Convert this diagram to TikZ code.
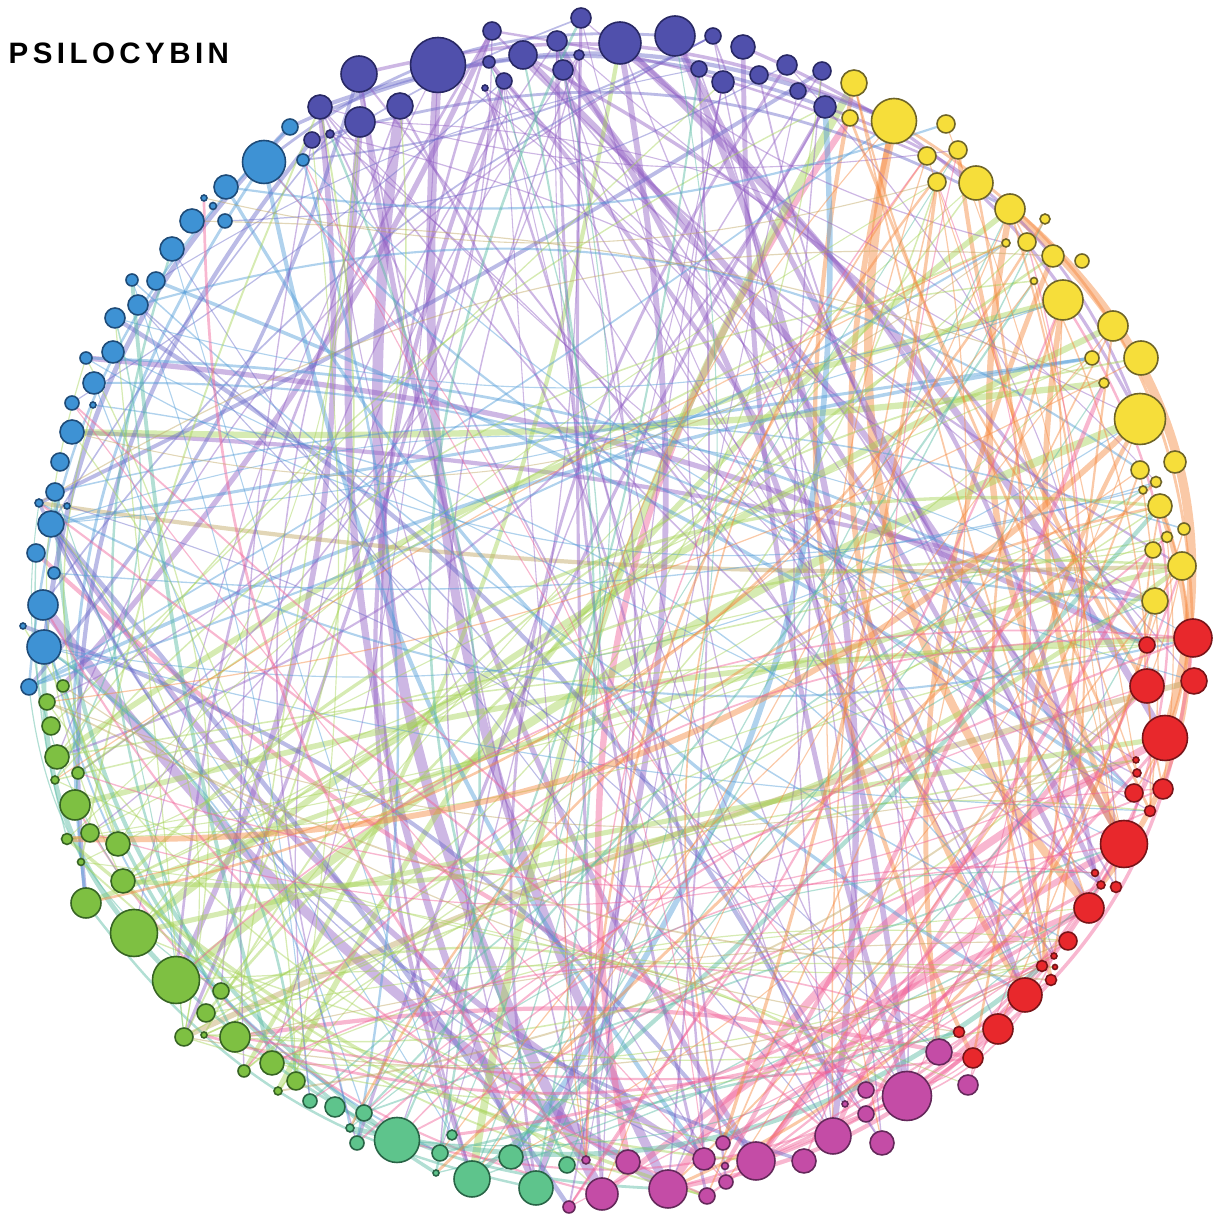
\documentclass[tikz,border=0pt]{standalone}
\usepackage{fontspec}
\newfontfamily\titlefont[LetterSpace=15]{Liberation Sans}
\usepackage{xcolor}
\usepackage{tikz}
\pgfdeclarelayer{background}
\pgfsetlayers{background,main}

\definecolor{indfill}{RGB}{80,80,172}
\definecolor{indline}{RGB}{40,40,100}
\definecolor{yelfill}{RGB}{246,222,58}
\definecolor{yelline}{RGB}{110,100,40}
\definecolor{redfill}{RGB}{232,40,44}
\definecolor{redline}{RGB}{120,20,24}
\definecolor{magfill}{RGB}{196,76,166}
\definecolor{magline}{RGB}{100,40,90}
\definecolor{teafill}{RGB}{94,196,140}
\definecolor{tealine}{RGB}{40,100,70}
\definecolor{grnfill}{RGB}{126,192,66}
\definecolor{grnline}{RGB}{55,100,35}
\definecolor{skyfill}{RGB}{62,146,212}
\definecolor{skyline}{RGB}{30,75,120}
\definecolor{edgpur}{RGB}{145,95,195}
\definecolor{edgind}{RGB}{105,105,200}
\definecolor{edglim}{RGB}{165,210,85}
\definecolor{edgora}{RGB}{245,135,60}
\definecolor{edgpnk}{RGB}{240,95,150}
\definecolor{edgsky}{RGB}{80,155,215}
\definecolor{edgtea}{RGB}{85,185,160}
\definecolor{edgtan}{RGB}{190,165,95}

\tikzset{
  dot/.style={circle, inner sep=0pt, line width=0.45pt},
  indnode/.style={dot, fill=indfill, draw=indline},
  yelnode/.style={dot, fill=yelfill, draw=yelline},
  rednode/.style={dot, fill=redfill, draw=redline},
  magnode/.style={dot, fill=magfill, draw=magline},
  teanode/.style={dot, fill=teafill, draw=tealine},
  grnnode/.style={dot, fill=grnfill, draw=grnline},
  skynode/.style={dot, fill=skyfill, draw=skyline},
  chord/.style={opacity=0.45, line cap=round},
}

\begin{document}
\begin{tikzpicture}[x=0.1mm, y=-0.1mm]
    \useasboundingbox (0,0) rectangle (1222,1218);

    % title
    \node[anchor=base west, font=\titlefont\bfseries\fontsize{8.4}{10}\selectfont, inner sep=0pt] (title) at (8,64) {PSILOCYBIN};

    % modules round the ring
    \foreach \x/\y/\d [count=\k] in {312/140/16, 330/134/8, 320/107/24, 360/122/30, 359/74/36, 400/106/26, 438/65/55, 485/88/6, 489/62/12, 504/81/16, 492/31/18, 523/55/28, 557/41/20, 563/70/20, 579/55/10, 581/18/20, 620/43/42, 675/36/40, 699/69/16, 713/36/16, 723/82/22, 743/47/24, 759/75/18, 787/65/20, 798/91/16, 822/71/18, 825/107/22}
        \node[indnode, minimum size=\d*0.1mm] (ind\k) at (\x,\y) {};
    \foreach \x/\y/\d [count=\k] in {854/83/26, 850/118/16, 894/121/45, 946/124/18, 927/156/18, 958/150/18, 937/182/18, 976/183/34, 1010/209/30, 1045/219/10, 1027/242/18, 1006/243/8, 1053/256/22, 1082/261/14, 1034/281/7, 1063/300/40, 1113/326/30, 1092/358/14, 1141/358/34, 1104/383/10, 1140/419/51, 1175/462/22, 1140/470/18, 1156/482/11, 1143/490/8, 1160/506/24, 1184/529/12, 1167/537/11, 1153/550/16, 1182/566/28, 1155/601/26}
        \node[yelnode, minimum size=\d*0.1mm] (yel\k) at (\x,\y) {};
    \foreach \x/\y/\d [count=\k] in {1193/638/38, 1147/645/16, 1147/686/34, 1194/681/26, 1165/738/45, 1136/760/6, 1137/773/8, 1134/793/18, 1163/789/20, 1150/811/11, 1124/844/47, 1095/873/7, 1101/885/8, 1116/887/11, 1089/908/30, 1068/941/18, 1054/956/6, 1055/967/5, 1042/966/11, 1051/980/11, 1025/995/34, 998/1029/30, 959/1032/11, 973/1058/20}
        \node[rednode, minimum size=\d*0.1mm] (red\k) at (\x,\y) {};
    \foreach \x/\y/\d [count=\k] in {939/1052/26, 968/1085/20, 907/1096/49, 866/1090/16, 845/1104/6, 866/1114/16, 882/1143/24, 833/1136/36, 804/1161/24, 756/1161/38, 723/1143/14, 704/1159/22, 725/1166/7, 726/1182/14, 707/1196/16, 668/1189/38, 628/1162/24, 602/1194/32, 586/1160/8, 569/1207/12}
        \node[magnode, minimum size=\d*0.1mm] (mag\k) at (\x,\y) {};
    \foreach \x/\y/\d [count=\k] in {567/1165/16, 536/1188/34, 511/1157/24, 472/1179/36, 436/1173/6, 440/1153/16, 452/1135/10, 397/1140/45, 357/1143/14, 350/1128/8, 364/1113/16, 335/1107/20, 310/1101/14}
        \node[teanode, minimum size=\d*0.1mm] (tea\k) at (\x,\y) {};
    \foreach \x/\y/\d [count=\k] in {278/1091/8, 296/1081/18, 244/1071/12, 272/1063/24, 235/1037/30, 204/1035/6, 184/1037/18, 206/1013/18, 221/991/16, 176/980/47, 134/933/47, 86/903/30, 123/881/24, 81/862/7, 118/844/24, 90/833/18, 67/839/11, 75/805/30, 55/780/8, 78/773/12, 57/757/24, 51/726/18, 47/702/16, 63/686/12}
        \node[grnnode, minimum size=\d*0.1mm] (grn\k) at (\x,\y) {};
    \foreach \x/\y/\d [count=\k] in {29/687/16, 44/647/34, 23/626/6, 43/605/30, 54/573/12, 36/553/18, 51/524/26, 67/506/6, 39/503/8, 55/492/18, 60/462/18, 72/432/24, 93/405/6, 72/403/14, 94/383/22, 86/358/12, 113/352/22, 115/318/20, 138/305/20, 156/281/18, 132/280/12, 172/249/24, 192/221/24, 225/221/14, 213/206/7, 204/198/6, 226/187/24, 303/160/12, 264/162/43, 290/127/16}
        \node[skynode, minimum size=\d*0.1mm] (sky\k) at (\x,\y) {};

    \begin{pgfonlayer}{background}
    % strong links
    \foreach \a/\b/\col/\w/\bd in {ind6/mag18/edgpur/3/-18, ind7/mag16/edgpur/2.6/-15, ind4/tea2/edgpur/2/-14, ind5/mag10/edgpur/1.5/-12, ind10/tea4/edgpur/1.2/-20, sky4/mag16/edgpur/2.8/-10, sky7/mag12/edgpur/1.6/-12, ind12/red11/edgpur/1.8/8, ind17/red5/edgpur/2/8, ind14/red15/edgpur/1.4/6, ind9/red21/edgpur/1.2/10, ind13/mag3/edgpur/1.6/12, ind18/mag8/edgpur/1.8/15, ind22/mag3/edgpur/1.4/-8, sky12/yel31/edgpur/1.2/6, sky16/red2/edgpur/1.5/10, ind3/grn10/edgpur/1.6/15,
        yel3/red15/edgora/2.4/-25, yel3/red21/edgora/1.6/-22, yel9/red11/edgora/1.8/-20, yel9/red5/edgora/2.6/32, yel16/red11/edgora/1.6/-15, yel1/red24/edgora/1.2/-18, yel13/mag1/edgora/1.4/-14, yel21/red20/edgora/1.2/-20, yel6/red3/edgora/1.2/-12, yel26/red13/edgora/1.6/28,
        yel2/mag17/edgpnk/1.8/-22, mag10/red11/edgpnk/1.8/12, mag16/red5/edgpnk/2.2/14, mag8/red3/edgpnk/1.4/10, mag18/red15/edgpnk/1.6/8, red21/mag16/edgpnk/1.2/18, red11/mag10/edgpnk/0.8/20, mag3/sky6/edgpnk/1.2/10, red24/grn5/edgpnk/1.2/-10, red1/mag3/edgpnk/1/25,
        grn10/yel21/edglim/2.4/8, tea4/yel1/edglim/2.2/10, grn11/yel17/edglim/1.8/6, grn21/yel16/edglim/1.6/10, grn18/red1/edglim/1.6/6, grn12/yel30/edglim/1.4/4, sky12/yel20/edglim/1.8/-4, grn3/ind17/edglim/1.2/-10, grn1/yel9/edglim/1.6/12,
        ind27/tea3/edgsky/1.6/20, sky29/mag12/edgsky/1.2/-12, sky20/red8/edgsky/1/6, sky1/yel18/edgsky/1/8,
        sky2/grn10/edgtea/1.4/-22, sky10/tea8/edgtea/1.2/-25, grn24/tea5/edgtea/1/-20,
        ind3/yel3/edgind/1.2/20, sky30/ind27/edgind/1/22, sky30/sky2/edgind/1.4/-18, ind1/grn12/edgind/1.2/-22,
        grn7/red4/edgtan/1.6/5, sky9/yel30/edgtan/1.2/-5}
        \draw[chord, color=\col, line width=\w pt] (\a) to[bend left=\bd] (\b);

    % links hugging the rim
    \foreach \a/\b/\col/\w/\bd in {ind1/yel9/edgind/0.8/22, ind5/yel3/edgpur/1/18, sky29/ind18/edgind/0.8/20, sky29/grn12/edgsky/0.8/-20, sky22/grn5/edgtea/0.7/-22, sky30/sky1/edgsky/0.7/-20, grn10/mag16/edgtea/0.8/-20, grn12/tea2/edgtea/0.7/-20, grn18/mag18/edgpnk/0.6/-22, red5/mag10/edgpnk/0.8/22, red11/mag16/edgpnk/0.7/22, yel3/red1/edgora/0.8/28, yel16/red11/edgpnk/0.7/25, ind27/yel21/edgpur/0.8/24, tea8/mag3/edgpnk/0.6/-18}
        \draw[chord, color=\col, line width=\w pt] (\a) to[bend left=\bd] (\b);

    % weaker links between modules
    \pgfmathsetseed{1218}
    \foreach \ga/\na/\gb/\nb/\col/\cnt in {ind/27/mag/20/edgpur/20, ind/27/red/24/edgpur/18, ind/27/grn/24/edgpur/12, ind/27/tea/13/edgpur/10, ind/27/sky/30/edgind/9, ind/27/yel/31/edgpur/8,
        sky/30/red/24/edgsky/10, sky/30/mag/20/edgind/9, sky/30/yel/31/edgsky/12, sky/30/tea/13/edgsky/7, sky/30/grn/24/edgtea/8,
        grn/24/yel/31/edglim/20, grn/24/red/24/edglim/13, grn/24/ind/27/edglim/9, grn/24/mag/20/edglim/7, grn/24/sky/30/edglim/7,
        tea/13/yel/31/edgtea/9, tea/13/ind/27/edgtea/7, tea/13/red/24/edgtea/6,
        yel/31/red/24/edgora/18, yel/31/mag/20/edgora/12, yel/31/tea/13/edgora/5, yel/31/grn/24/edgora/5,
        red/24/mag/20/edgpnk/9, red/24/grn/24/edgpnk/7, mag/20/yel/31/edgpnk/9, mag/20/sky/30/edgpnk/7, red/24/tea/13/edgpnk/6,
        grn/24/red/24/edgtan/6, yel/31/sky/30/edgtan/4} {
        \foreach \k in {1,...,\cnt} {
            \pgfmathtruncatemacro\i{random(1,\na)}
            \pgfmathtruncatemacro\j{random(1,\nb)}
            \pgfmathtruncatemacro\bd{random(-26,26)}
            \pgfmathsetmacro\w{0.3+1.6*rnd*rnd*rnd}
            \draw[chord, color=\col, line width=\w pt] (\ga\i) to[bend left=\bd] (\gb\j);
        }
    }
    \end{pgfonlayer}
\end{tikzpicture}
\end{document}
